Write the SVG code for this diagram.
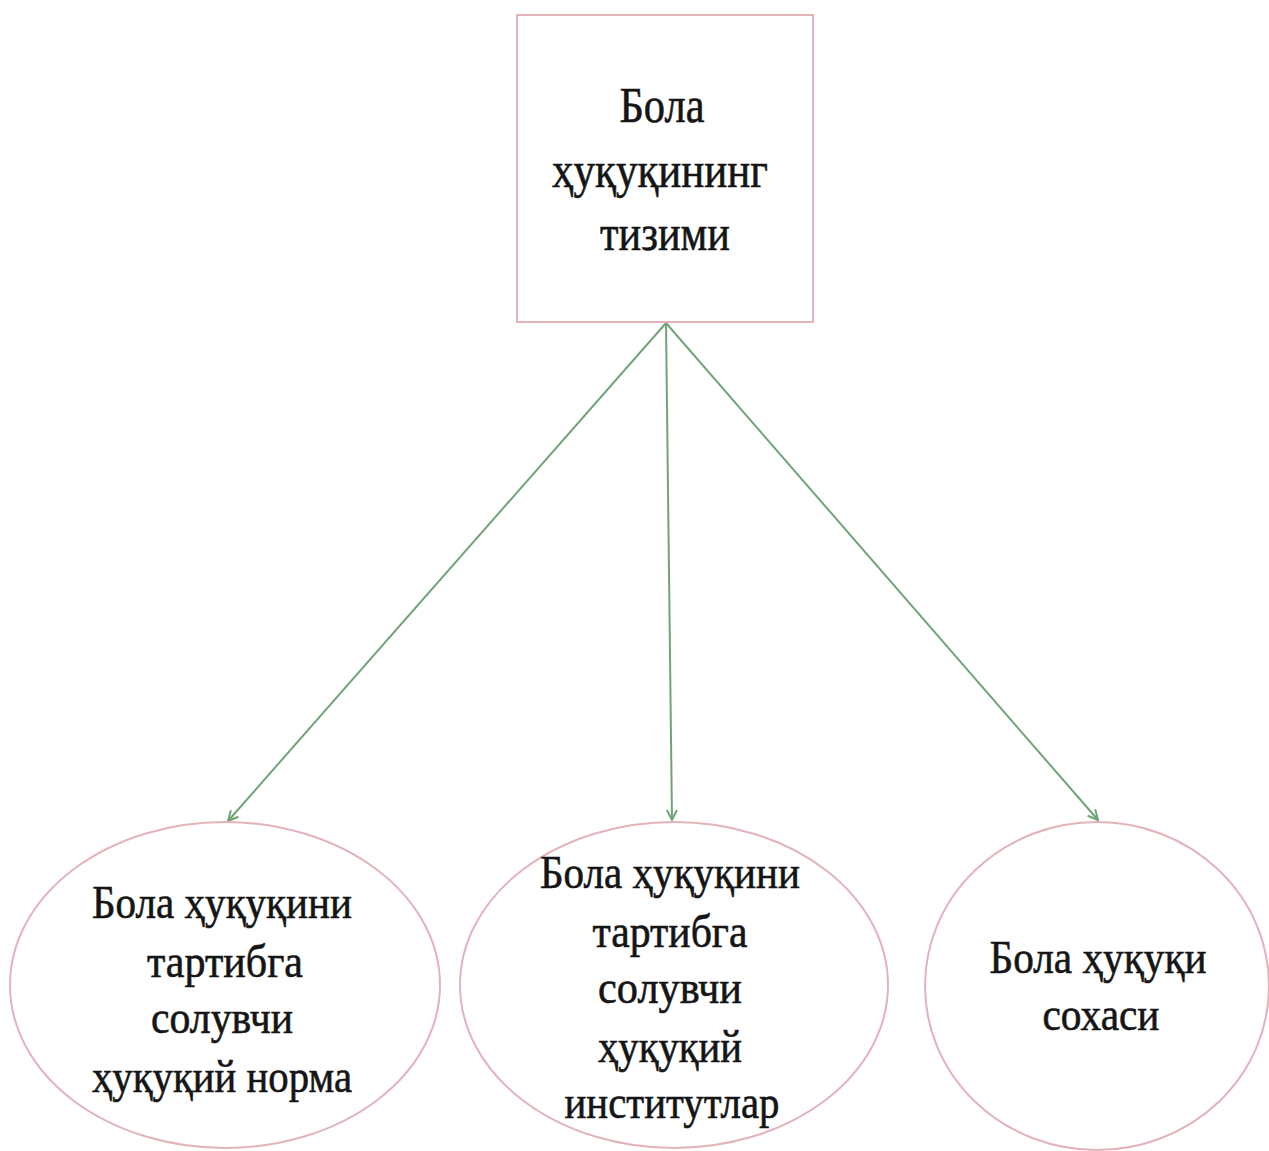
<svg xmlns="http://www.w3.org/2000/svg" width="1269" height="1151" viewBox="0 0 1269 1151">
<style>
.shape{fill:#ffffff;stroke:#e3b3ba;stroke-width:2}
.t{font-family:"Liberation Serif","DejaVu Serif",serif;fill:#151515;stroke:#151515;stroke-width:0.6;text-anchor:middle}
.big{font-size:50px}
.mid{font-size:46px}
.conn{stroke:#72a377;stroke-width:2;fill:none}
</style>
<defs>
<marker id="arr" viewBox="0 0 12 12" refX="11" refY="6" markerWidth="12" markerHeight="12" markerUnits="userSpaceOnUse" orient="auto">
<path d="M1,1 L11,6 L1,11" fill="none" stroke="#72a377" stroke-width="2"/>
</marker>
</defs>
<rect width="1269" height="1151" fill="#ffffff"/>
<g id="connectors">
<line class="conn" x1="666" y1="323" x2="228" y2="821" marker-end="url(#arr)"/>
<line class="conn" x1="666" y1="323" x2="672" y2="820" marker-end="url(#arr)"/>
<line class="conn" x1="666" y1="323" x2="1098" y2="820" marker-end="url(#arr)"/>
</g>
<g id="root">
<rect class="shape" x="517" y="15" width="296" height="307"/>
<text class="t big" x="662" y="122" textLength="85" lengthAdjust="spacingAndGlyphs">Бола</text>
<text class="t big" x="660" y="187" textLength="216" lengthAdjust="spacingAndGlyphs">ҳуқуқининг</text>
<text class="t big" x="665" y="250" textLength="130" lengthAdjust="spacingAndGlyphs">тизими</text>
</g>
<g id="node-norm">
<ellipse class="shape" cx="225" cy="985" rx="215" ry="163"/>
<text class="t mid" x="222" y="918" textLength="260" lengthAdjust="spacingAndGlyphs">Бола ҳуқуқини</text>
<text class="t mid" x="225" y="977" textLength="156" lengthAdjust="spacingAndGlyphs">тартибга</text>
<text class="t mid" x="222" y="1033" textLength="142" lengthAdjust="spacingAndGlyphs">солувчи</text>
<text class="t mid" x="222" y="1092" textLength="260" lengthAdjust="spacingAndGlyphs">ҳуқуқий норма</text>
</g>
<g id="node-inst">
<ellipse class="shape" cx="674" cy="985" rx="214" ry="163"/>
<text class="t mid" x="670" y="888" textLength="260" lengthAdjust="spacingAndGlyphs">Бола ҳуқуқини</text>
<text class="t mid" x="670" y="947" textLength="155" lengthAdjust="spacingAndGlyphs">тартибга</text>
<text class="t mid" x="670" y="1003" textLength="144" lengthAdjust="spacingAndGlyphs">солувчи</text>
<text class="t mid" x="670" y="1062" textLength="144" lengthAdjust="spacingAndGlyphs">ҳуқуқий</text>
<text class="t mid" x="672" y="1118" textLength="215" lengthAdjust="spacingAndGlyphs">институтлар</text>
</g>
<g id="node-field">
<ellipse class="shape" cx="1097" cy="986" rx="172" ry="164"/>
<text class="t mid" x="1098" y="973" textLength="217" lengthAdjust="spacingAndGlyphs">Бола ҳуқуқи</text>
<text class="t mid" x="1101" y="1030" textLength="117" lengthAdjust="spacingAndGlyphs">сохаси</text>
</g>
</svg>
